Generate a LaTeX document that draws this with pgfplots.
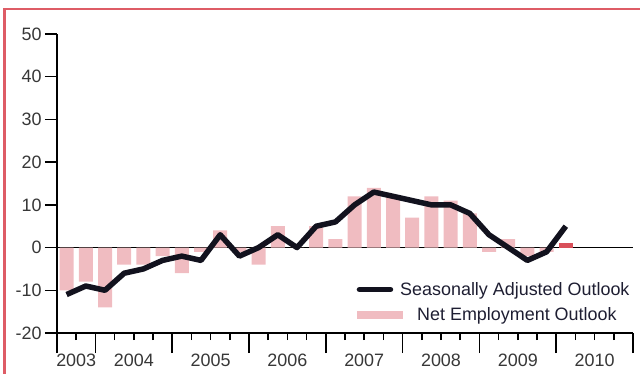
\documentclass[border=0pt]{standalone}
\usepackage{fontspec}
\setmainfont{Liberation Sans}
\usepackage{pgfplots}
\pgfplotsset{compat=1.18}
\definecolor{framered}{RGB}{222,92,102}
\definecolor{pinkbar}{RGB}{240,188,193}
\definecolor{redbar}{RGB}{217,80,90}
\definecolor{linecol}{RGB}{18,18,30}
\definecolor{ticktext}{RGB}{55,55,55}
\definecolor{legtext}{RGB}{30,30,50}
\newcommand{\chfont}{\fontsize{18}{21}\selectfont}
\begin{document}
\begin{tikzpicture}
\useasboundingbox (0,0) rectangle (640bp,374bp);
\draw[framered, line width=2.5bp] (4.5bp,-5bp) -- (4.5bp,365bp) -- (645bp,365bp);
% main axis with data
\begin{axis}[
  at={(57bp,41bp)}, anchor=south west,
  scale only axis, width=576bp, height=299bp,
  xmin=-0.5, xmax=29.5, ymin=-20, ymax=50,
  axis x line=bottom, axis y line=left,
  axis line style={-, line width=1.5bp, black},
  tick align=outside,
  major tick length=12bp,
  tick style={line width=1.5bp, black},
  ytick={-20,-10,0,10,20,30,40,50},
  xtick=\empty,
  /pgf/number format/assume math mode=true,
  yticklabel style={font=\chfont, text=ticktext},
  extra y ticks={0}, extra y tick labels={},
  extra y tick style={grid=major, major grid style={black, line width=0.9bp}},
  legend style={draw=none, fill=none, font=\chfont, text=legtext,
    at={(rel axis cs:0.52,0.177)}, anchor=north west,
    inner sep=0pt, row sep=7bp,
    nodes={inner sep=2bp},
    /tikz/every odd column/.append style={column sep=5bp}},
  legend cell align=left,
]
\addlegendimage{legend image code/.code={\draw[line width=5.5bp, line cap=round, draw=linecol, fill=none] (2bp,0bp) -- (33bp,0bp);\path[draw=none, fill=none] (0bp,-4bp) rectangle (34bp,4bp);}}
\addlegendentry{Seasonally Adjusted Outlook}
\addlegendimage{legend image code/.code={\path[fill=pinkbar, draw=none, overlay] (0bp,-4bp) rectangle (46bp,4bp);\path[draw=none, fill=none] (0bp,-4bp) rectangle (34bp,4bp);}}
\addlegendentry{\hspace*{17bp}Net Employment Outlook}
\addplot[ybar, bar width=14bp, bar shift=0pt, fill=pinkbar, draw=none, forget plot] coordinates {
(0,-10) (1,-8) (2,-14) (3,-4) (4,-4) (5,-2) (6,-6) (7,-1) (8,4) (9,-1)
(10,-4) (11,5) (12,0) (13,5) (14,2) (15,12) (16,14) (17,12) (18,7) (19,12)
(20,11) (21,8) (22,-1) (23,2) (24,-2) (25,-1)
};
\addplot[ybar, bar width=14bp, bar shift=0pt, fill=redbar, draw=none, forget plot] coordinates {
(26,1)
};
\addplot[linecol, line width=5.5bp, line join=round, forget plot] coordinates {
(0,-11) (1,-9) (2,-10) (3,-6) (4,-5) (5,-3) (6,-2) (7,-3) (8,3) (9,-2)
(10,0) (11,3) (12,0) (13,5) (14,6) (15,10) (16,13) (17,12) (18,11) (19,10)
(20,10) (21,8) (22,3) (23,0) (24,-3) (25,-1) (26,5)
};
\end{axis}
% tick marks of the time axis
\begin{axis}[
  at={(57bp,41bp)}, anchor=south west,
  scale only axis, width=576bp, height=299bp,
  xmin=-0.5, xmax=29.5, ymin=-20, ymax=50,
  axis x line*=bottom, axis y line=none,
  axis line style={-, line width=1.5bp, black},
  tick align=outside,
  major tick length=20bp, minor tick length=7bp,
  tick style={line width=1.5bp, black},
  xtick={-0.5,1.5,5.5,9.5,13.5,17.5,21.5,25.5,29.5},
  xticklabels={},
  minor xtick={0.5,2.5,3.5,4.5,6.5,7.5,8.5,10.5,11.5,12.5,14.5,15.5,16.5,18.5,19.5,20.5,22.5,23.5,24.5,26.5,27.5,28.5},
  ytick=\empty,
]
\end{axis}
% year labels
\begin{axis}[
  at={(57bp,41bp)}, anchor=south west,
  scale only axis, width=576bp, height=299bp,
  xmin=-0.5, xmax=29.5, ymin=-20, ymax=50,
  axis x line*=bottom, axis y line=none,
  axis line style={draw=none},
  major tick length=0pt,
  tick style={draw=none},
  xtick={0.5,3.5,7.5,11.5,15.5,19.5,23.5,27.5},
  xticklabels={2003,2004,2005,2006,2007,2008,2009,2010},
  xticklabel style={font=\chfont, text=ticktext, anchor=north, yshift=-17bp},
  ytick=\empty,
]
\end{axis}
\end{tikzpicture}
\end{document}
